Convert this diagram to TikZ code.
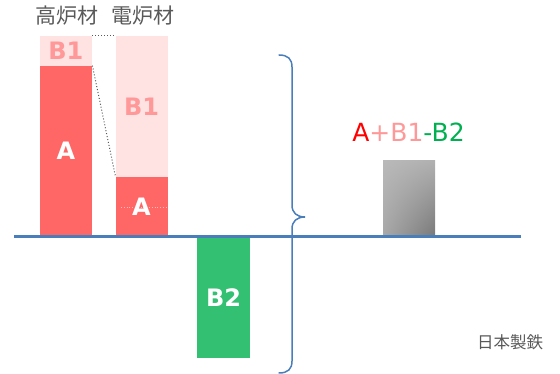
\documentclass[tikz,border=0pt]{standalone}
\usepackage{fontspec}
\usetikzlibrary{shadings}
\setmainfont{DejaVu Sans}
\newfontfamily\cjk{Noto Sans CJK JP}
\definecolor{redbar}{RGB}{255,102,102}
\definecolor{pinkbar}{RGB}{255,226,226}
\definecolor{pinktext}{RGB}{255,153,153}
\definecolor{greenbar}{RGB}{52,192,114}
\definecolor{greentext}{RGB}{0,176,80}
\definecolor{axisblue}{RGB}{74,126,187}
\definecolor{titlegray}{RGB}{89,89,89}
\begin{document}
\begin{tikzpicture}[x=1pt,y=-1pt,
  bar/.style={draw=none, inner sep=0pt, anchor=south west, font=\bfseries\fontsize{24}{24}\selectfont},
  title/.style={text=titlegray, font=\cjk\fontsize{21}{21}\selectfont, inner sep=0pt},
  dotline/.style={draw=gray!70!black, dotted, line width=1pt},
  bluel/.style={draw=axisblue, line width=1.5pt, line cap=round}]
\useasboundingbox (0,0) rectangle (560,374);
% bars 1
\node[bar, fill=pinkbar, text=pinktext, minimum width=52.5, minimum height=30] (B1a) at (39.5,66) {B1};
\node[bar, fill=redbar, text=white, minimum width=52.5, minimum height=170] (Aa) at (39.5,236) {A};
% bars 2
\node[bar, fill=pinkbar, text=pinktext, minimum width=52, minimum height=141] (B1b) at (115.5,177) {B1};
\node[bar, fill=redbar, minimum width=52, minimum height=59] (Ab) at (115.5,236) {};
\coordinate (dl) at (121,207);
\coordinate (dr) at (167,207);
\draw[draw=pinktext!70, dotted, line width=0.8pt] (dl) -- (dr);
\node[text=white, font=\bfseries\fontsize{24}{24}\selectfont, inner sep=0pt] (Albl) at (141.5,207) {A};
% green bar
\node[bar, fill=greenbar, text=white, anchor=north west, minimum width=53, minimum height=122] (B2) at (197,236) {B2};
% dotted connectors
\draw[dotline] (B1a.north east) -- (B1b.north west);
\draw[dotline] (Aa.north east) -- (Ab.north west);
% titles
\node[title] (t1) at (67,16) {高炉材};
\node[title] (t2) at (142.5,16) {電炉材};
% gray bar
\shade[upper left=gray!55, upper right=gray!62, lower left=gray!68, lower right=gray!105] (383,161) rectangle (435,236);
% axis
\coordinate (ax1) at (14,236.3);
\coordinate (ax2) at (521,236.3);
\draw[draw=axisblue, line width=3pt] (ax1) -- (ax2);
% brace
\coordinate (bt) at (279,55);
\coordinate (bb) at (279,373);
\draw[bluel] (bt) .. controls (288,55) and (292,59) .. (292,67) -- (292,205)
  .. controls (292,213) and (297,217) .. (305,217)
  .. controls (297,217) and (292,221) .. (292,229) -- (292,361)
  .. controls (292,369) and (288,373) .. (bb);
% formula
\node[inner sep=0pt, font=\fontsize{25}{25}\selectfont] (f) at (408.5,132) {\textcolor{red}{A}\textcolor{pinktext}{+B1}\textcolor{greentext}{-B2}};
% source
\node[text=titlegray, font=\cjk\fontsize{16.5}{16.5}\selectfont, inner sep=0pt] (src) at (510,342) {日本製鉄};
\end{tikzpicture}
\end{document}
